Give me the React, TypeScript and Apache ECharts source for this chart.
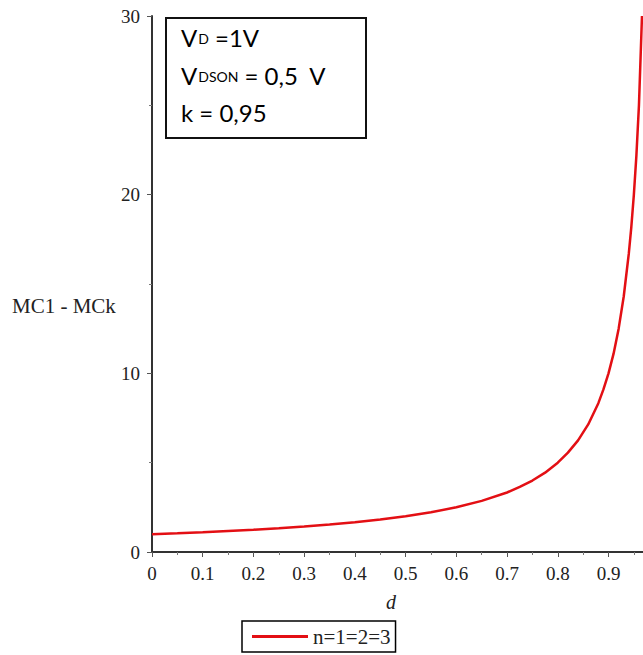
import React, { useEffect, useRef } from "react";
import * as echarts from "echarts";

const dValues = [0, 0.05, 0.1, 0.15, 0.2, 0.25, 0.3, 0.35, 0.4, 0.45, 0.5, 0.55, 0.6, 0.65, 0.7, 0.725, 0.75, 0.775, 0.8, 0.82, 0.84, 0.86, 0.88, 0.89, 0.9, 0.91, 0.92, 0.93, 0.94, 0.945, 0.95, 0.955, 0.96, 0.966];
const mcValues = [1.0, 1.05, 1.11, 1.18, 1.25, 1.33, 1.43, 1.54, 1.67, 1.82, 2.0, 2.22, 2.5, 2.86, 3.33, 3.64, 4.0, 4.44, 5.0, 5.56, 6.25, 7.14, 8.33, 9.1, 10.0, 11.1, 12.5, 14.3, 16.7, 18.2, 20.0, 22.2, 25.0, 30.0];
const xTicks = ["0", "0.1", "0.2", "0.3", "0.4", "0.5", "0.6", "0.7", "0.8", "0.9"];
const yTicks = ["0", "10", "20", "30"];
const seriesName = "n=1=2=3";
const xName = "d";
const yName = "MC1 - MCk";

const SERIF = "'Liberation Serif', 'Times New Roman', serif";
const SANS = "Lato, 'Noto Sans', sans-serif";

export default function App() {
  const ref = useRef<HTMLDivElement>(null);
  useEffect(() => {
    if (!ref.current) return;
    const chart = echarts.init(ref.current, null, { renderer: "svg" });
    const data = dValues.map((d, i) => [d, mcValues[i]]);
    const rich = {
      m: { fontSize: 24, fontFamily: SANS, color: "#111" },
      s: { fontSize: 14, fontFamily: SANS, color: "#111", verticalAlign: "bottom", padding: [0, 0, 4, 1] },
    };
    chart.setOption({
      animation: false,
      backgroundColor: "#fff",
      grid: { left: 152, right: 0, top: 16, bottom: 103 },
      xAxis: {
        type: "value",
        min: 0,
        max: 0.968,
        interval: 0.1,
        axisLine: { show: true, onZero: false, lineStyle: { color: "#333", width: 2 } },
        axisTick: { show: true, length: 5, lineStyle: { color: "#555" } },
        minorTick: { show: true, splitNumber: 2, length: 3, lineStyle: { color: "#777" } },
        splitLine: { show: false },
        axisLabel: {
          margin: 12,
          showMaxLabel: false,
          fontFamily: SERIF,
          fontSize: 19,
          color: "#222",
          formatter: (v: number) => {
            const idx = Math.round(v * 10);
            return Math.abs(v * 10 - idx) < 1e-6 && idx < xTicks.length ? xTicks[idx] : "";
          },
        },
      },
      yAxis: {
        type: "value",
        min: 0,
        max: 30,
        interval: 10,
        axisLine: { show: true, lineStyle: { color: "#333", width: 2 } },
        axisTick: { show: true, length: 5, lineStyle: { color: "#555" } },
        minorTick: { show: true, splitNumber: 2, length: 3, lineStyle: { color: "#777" } },
        splitLine: { show: false },
        axisLabel: {
          margin: 12,
          fontFamily: SERIF,
          fontSize: 19,
          color: "#222",
          formatter: (v: number) => {
            const idx = Math.round(v / 10);
            return idx < yTicks.length ? yTicks[idx] : "";
          },
        },
      },
      legend: {
        show: true,
        left: 242,
        top: 621,
        orient: "horizontal",
        borderColor: "#000",
        borderWidth: 1.5,
        padding: [5, 5, 5, 10],
        itemWidth: 56,
        itemHeight: 3,
        itemGap: 5,
        textStyle: { fontFamily: SERIF, fontSize: 21, color: "#222", lineHeight: 20 },
        data: [{ name: seriesName, icon: "rect" }],
      },
      series: [
        {
          name: seriesName,
          type: "line",
          data,
          smooth: false,
          symbol: "none",
          lineStyle: { color: "#e30f14", width: 2.5 },
          itemStyle: { color: "#e30f14" },
        },
      ],
      graphic: [
        {
          type: "rect",
          shape: { x: 166, y: 18, width: 200, height: 120 },
          style: { fill: "#fff", stroke: "#111", lineWidth: 2 },
          z: 10,
        },
        {
          type: "text",
          x: 181,
          y: 25,
          z: 11,
          style: { text: "{m|V}{s|D}{m| =1V}", rich },
        },
        {
          type: "text",
          x: 181,
          y: 63,
          z: 11,
          style: { text: "{m|V}{s|DSON}{m| = 0,5  V}", rich },
        },
        {
          type: "text",
          x: 181,
          y: 100,
          z: 11,
          style: { text: "{m|k = 0,95}", rich },
        },
        {
          type: "text",
          x: 12,
          y: 295,
          style: { text: yName, fontFamily: SERIF, fontSize: 21, fill: "#222" },
        },
        {
          type: "text",
          x: 386,
          y: 592,
          style: { text: xName, fontFamily: SERIF, fontSize: 20, fontStyle: "italic", fill: "#222" },
        },
      ],
    });
    return () => chart.dispose();
  }, []);
  return (
    <div
      ref={ref}
      style={{ position: "fixed", left: 0, top: 0, width: 643, height: 655, background: "#fff" }}
    />
  );
}
